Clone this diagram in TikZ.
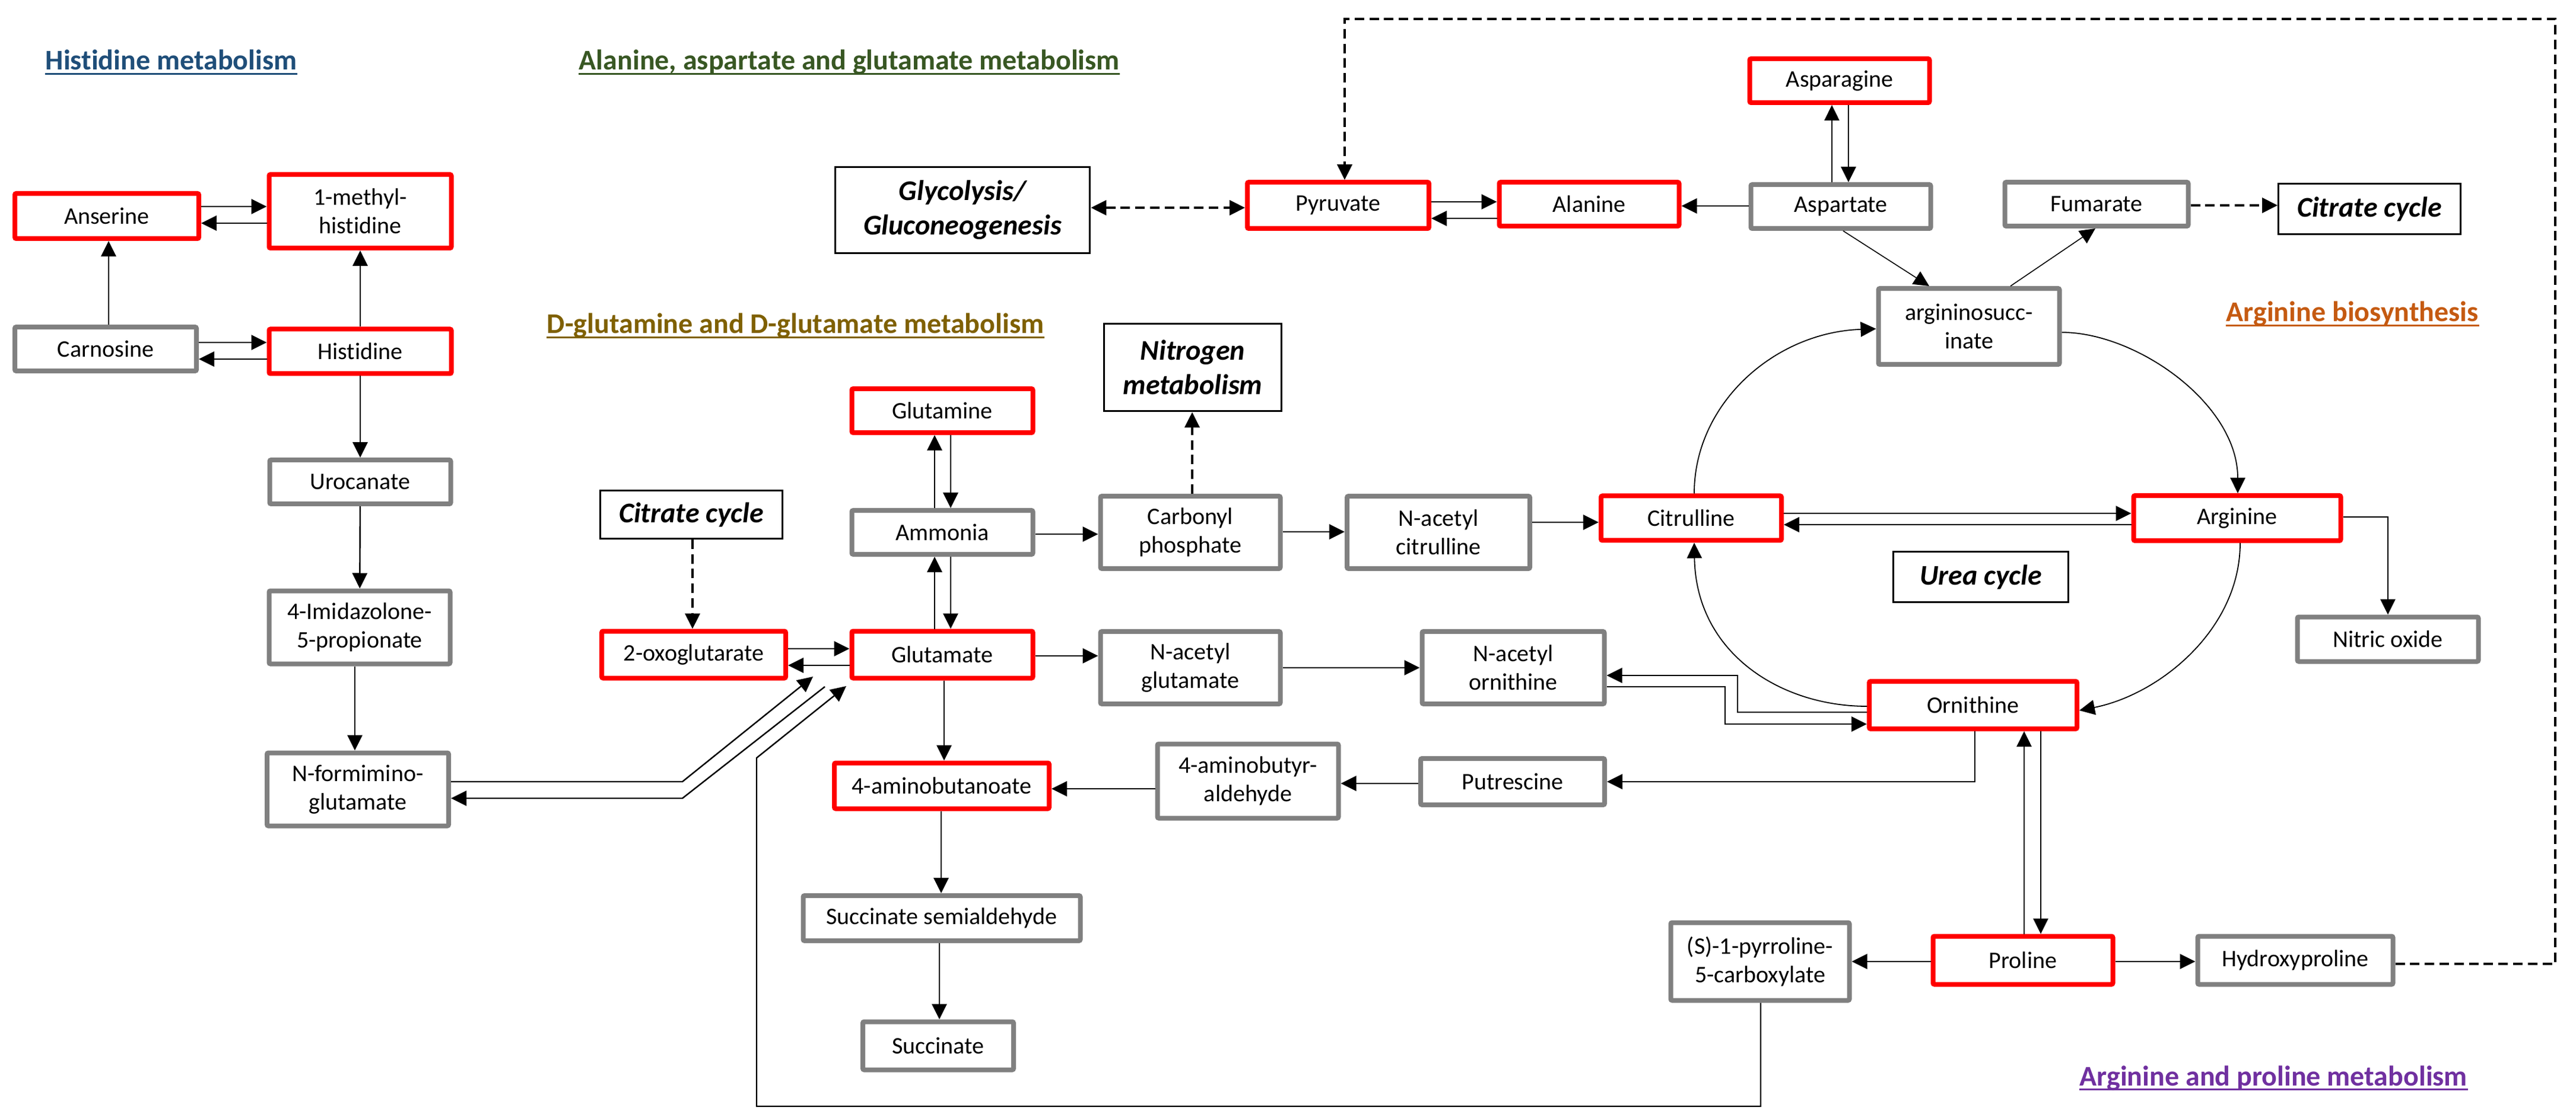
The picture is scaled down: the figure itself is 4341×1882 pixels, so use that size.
\documentclass[tikz,border=0pt]{standalone}
\usepackage{fontspec}
\setmainfont{Carlito}[Ligatures=NoCommon]
\usetikzlibrary{arrows.meta}
\definecolor{boxgray}{HTML}{808080}
\definecolor{boxred}{HTML}{FF0000}
\definecolor{tblue}{HTML}{1F4E79}
\definecolor{tgreen}{HTML}{385723}
\definecolor{tbrown}{HTML}{7F6000}
\definecolor{torange}{HTML}{C55A11}
\definecolor{tpurple}{HTML}{7030A0}
\tikzset{
  mbox/.style={draw, line width=2pt, fill=white, align=center, inner sep=0pt,
    rounded corners=0.6pt, font=\fontsize{10}{12}\selectfont},
  redbox/.style={mbox, draw=boxred},
  graybox/.style={mbox, draw=boxgray},
  pathbox/.style={draw=black, line width=0.8pt, fill=white, align=center, inner sep=0pt,
    font=\fontsize{12}{14.6}\selectfont\bfseries\itshape},
  sz/.style 2 args={minimum width=#1pt, minimum height=#2pt},
  tip/.tip={Triangle[length=6.5pt,width=6.3pt]},
  arr/.style={-tip, line width=0.6pt},
  arrthin/.style={-tip, line width=0.4pt},
  curvearr/.style={-tip, line width=0.45pt},
  darr/.style={-tip, line width=0.85pt, dash pattern=on 4pt off 2.2pt},
  darrboth/.style={tip-tip, line width=0.85pt, dash pattern=on 4pt off 2.2pt},
  ttl/.style={anchor=base west, inner sep=0pt, font=\fontsize{12}{14}\selectfont\bfseries},
}
\begin{document}
\begin{tikzpicture}[x=0.25pt,y=-0.25pt]
\fill[white] (0,0) rectangle (4341,1882);
\useasboundingbox (0,0) rectangle (4341,1882);

% ---------- titles ----------
\node[ttl, text=tblue]   (t1) at (76,118)   {Histidine metabolism};
\node[ttl, text=tgreen]  (t2) at (975,118)  {Alanine, aspartate and glutamate metabolism};
\node[ttl, text=tbrown]  (t3) at (921,562)  {D-glutamine and D-glutamate metabolism};
\node[ttl, text=torange] (t4) at (3751,542) {Arginine biosynthesis};
\node[ttl, text=tpurple] (t5) at (3504,1829) {Arginine and proline metabolism};
\foreach \t/\c in {t1/tblue,t2/tgreen,t3/tbrown,t4/torange,t5/tpurple}
  \draw[\c, line width=0.6pt] ([yshift=-1.6pt]\t.base west) -- ([yshift=-1.6pt]\t.base east);

% ---------- histidine ----------
\node[redbox, sz={77.5}{19}]     (anserine)  at (180,364)  {Anserine};
\node[redbox, sz={76.75}{31}]    (methyl)    at (607,356)  {1-methyl-\\histidine};
\node[graybox, sz={76.5}{18.5}]  (carnosine) at (178,588)  {Carnosine};
\node[redbox, sz={76.75}{18.75}] (histidine) at (607,592)  {Histidine};
\node[graybox, sz={76.25}{18.5}] (urocanate) at (607,812)  {Urocanate};
\node[graybox, sz={76.25}{30.75}](imid)      at (606,1057) {4-Imidazolone-\\5-propionate};
\node[graybox, sz={76.5}{30.75}] (nform)     at (603,1330) {N-formimino-\\glutamate};

% ---------- glutamate ----------
\node[pathbox, sz={76.6}{20.1}]  (citrate1)  at (1165,867) {Citrate cycle};
\node[redbox, sz={77.5}{19.75}]  (oxo)       at (1169,1103) {2-oxoglutarate};
\node[redbox, sz={76.25}{18.5}]  (glutamine) at (1588,692) {Glutamine};
\node[graybox, sz={76.25}{18.5}] (ammonia)   at (1588,897) {Ammonia};
\node[redbox, sz={76.25}{19.75}] (glutamate) at (1588,1103) {Glutamate};
\node[redbox, sz={90.5}{19.25}]  (gaba)      at (1587,1324) {4-aminobutanoate};
\node[graybox, sz={116.75}{19}]  (ssa)       at (1587,1547) {Succinate semialdehyde};
\node[graybox, sz={63.5}{20.25}] (succinate) at (1581,1762) {Succinate};

\node[pathbox, sz={107.4}{36.4}] (glycolysis) at (1622,354) {Glycolysis/\\Gluconeogenesis};
\node[pathbox, sz={74.9}{36.9}]  (nitrogen)   at (2010,619) {Nitrogen\\metabolism};
\node[graybox, sz={75.75}{30.5}] (carbonyl)   at (2006,897) {Carbonyl\\phosphate};
\node[graybox, sz={77}{30.5}]    (nacit)      at (2424,897) {N-acetyl\\citrulline};
\node[redbox, sz={76}{18.75}]    (citrulline) at (2850,873) {Citrulline};
\node[graybox, sz={75.75}{30.5}] (naglu)      at (2006,1125) {N-acetyl\\glutamate};
\node[graybox, sz={76.75}{30.5}] (naorn)      at (2550,1125) {N-acetyl\\ornithine};
\node[graybox, sz={76.25}{31.25}](abal)       at (2103,1316) {4-aminobutyr-\\aldehyde};
\node[graybox, sz={77.5}{19.5}]  (putrescine) at (2549,1317) {Putrescine};
\node[graybox, sz={75.25}{32.75}](p5c)        at (2966,1620) {(S)-1-pyrroline-\\5-carboxylate};

% ---------- alanine / aspartate ----------
\node[redbox, sz={76.5}{19.5}]   (pyruvate)   at (2255,346) {Pyruvate};
\node[redbox, sz={75.75}{18.5}]  (alanine)    at (2678,344) {Alanine};
\node[redbox, sz={75.75}{18.5}]  (asparagine) at (3100,136) {Asparagine};
\node[graybox, sz={75.75}{18.5}] (aspartate)  at (3102,348) {Aspartate};
\node[graybox, sz={77.25}{18.5}] (fumarate)   at (3533,344) {Fumarate};
\node[pathbox, sz={76.6}{21.4}]  (citrate2)   at (3993,352) {Citrate cycle};

% ---------- urea cycle ----------
\node[graybox, sz={76.25}{32}]   (argsucc)    at (3318,550) {argininosucc-\\inate};
\node[redbox, sz={87.25}{19}]    (arginine)   at (3770,873) {Arginine};
\node[graybox, sz={76.25}{18.75}](nitric)     at (4024,1077) {Nitric oxide};
\node[pathbox, sz={73.9}{21.4}]  (urea)       at (3338,972) {Urea cycle};
\node[redbox, sz={87.5}{20}]     (ornithine)  at (3325,1188) {Ornithine};
\node[redbox, sz={75.75}{20.25}] (proline)    at (3409,1618) {Proline};
\node[graybox, sz={82.25}{20.25}](hydroxy)    at (3868,1618) {Hydroxyproline};

% ---------- connectors: histidine ----------
\draw[arr] (anserine.east |- 0,348) -- (methyl.west |- 0,348);
\draw[arr] (methyl.west |- 0,376) -- (anserine.east |- 0,376);
\draw[arr] (carnosine.east |- 0,577) -- (histidine.west |- 0,577);
\draw[arr] (histidine.west |- 0,605) -- (carnosine.east |- 0,605);
\draw[arr] (carnosine.north -| 183,0) -- (anserine.south -| 183,0);
\draw[arr] (histidine) -- (methyl);
\draw[arr] (histidine) -- (urocanate);
\draw[arr] (urocanate) -- (imid);
\draw[arr] (imid.south -| 598,0) -- (nform.north -| 598,0);

\coordinate (nfA) at (1150,1317);
\coordinate (nfB) at (1370,1140);
\coordinate (nfC) at (1390,1157);
\coordinate (nfD) at (1150,1345);
\draw[arr] (nform.east |- 0,1317) -- (nfA) -- (nfB);
\draw[arr] (nfC) -- (nfD) -- (nform.east |- 0,1345);

\coordinate (pc1) at (2967,1864);
\coordinate (pc2) at (1275,1864);
\coordinate (pc3) at (1275,1277);
\coordinate (pc4) at (1426,1156);
\draw[arr] (p5c.south -| 2967,0) -- (pc1) -- (pc2) -- (pc3) -- (pc4);

% ---------- connectors: glutamate ----------
\draw[darr] (citrate1.south -| 1167,0) -- (oxo.north -| 1167,0);
\draw[arr] (oxo.east |- 0,1093) -- (glutamate.west |- 0,1093);
\draw[arr] (glutamate.west |- 0,1121) -- (oxo.east |- 0,1121);
\draw[arr] (ammonia.north -| 1575,0) -- (glutamine.south -| 1575,0);
\draw[arr] (glutamine.south -| 1602,0) -- (ammonia.north -| 1602,0);
\draw[arr] (glutamate.north -| 1575,0) -- (ammonia.south -| 1575,0);
\draw[arr] (ammonia.south -| 1602,0) -- (glutamate.north -| 1602,0);
\draw[arr] (ammonia.east |- 0,900) -- (carbonyl.west |- 0,900);
\draw[arr] (glutamate.east |- 0,1105) -- (naglu.west |- 0,1105);
\draw[arr] (glutamate.south -| 1591,0) -- (gaba.north -| 1591,0);
\draw[arr] (gaba.south -| 1586,0) -- (ssa.north -| 1586,0);
\draw[arr] (ssa.south -| 1583,0) -- (succinate.north -| 1583,0);
\draw[arr] (abal.west |- 0,1329) -- (gaba.east |- 0,1329);
\draw[arr] (putrescine.west |- 0,1320) -- (abal.east |- 0,1320);
\draw[arr] (ornithine.south -| 3328,0) |- (putrescine.east);

\draw[darr] (carbonyl.north -| 2009,0) -- (nitrogen.south -| 2009,0);
\draw[arr] (carbonyl.east |- 0,896) -- (nacit.west |- 0,896);
\draw[arr] (nacit.east |- 0,880) -- (citrulline.west |- 0,880);
\draw[arr] (citrulline.east |- 0,865) -- (arginine.west |- 0,865);
\draw[arr] (arginine.west |- 0,884) -- (citrulline.east |- 0,884);
\draw[arr] (naglu) -- (naorn);

\coordinate (ob1) at (2928,1200);
\coordinate (ob2) at (2928,1138);
\coordinate (ob3) at (2907,1157);
\coordinate (ob4) at (2907,1220);
\draw[arr] (ornithine.west |- 0,1200) -- (ob1) -- (ob2) -- (naorn.east |- 0,1138);
\draw[arr] (naorn.east |- 0,1157) -- (ob3) -- (ob4) -- (ornithine.west |- 0,1220);

% ---------- urea cycle curves ----------
\draw[curvearr] (ornithine.west |- 0,1190) .. controls (3000,1190) and (2858,1100) .. (citrulline.south -| 2855,0);
\draw[curvearr] (citrulline.north -| 2855,0) .. controls (2855,680) and (2990,560) .. (argsucc.west |- 0,554);
\draw[curvearr] (argsucc.east |- 0,560) .. controls (3600,560) and (3771,680) .. (arginine.north -| 3771,0);
\draw[curvearr] (arginine.south -| 3775,0) .. controls (3775,1060) and (3640,1170) .. (ornithine.east |- 0,1197);
\draw[arr] (arginine.east |- 0,871) -| (nitric.north);

% ---------- alanine / aspartate connectors ----------
\draw[darrboth] (glycolysis.east |- 0,350) -- (pyruvate.west |- 0,350);
\draw[arr] (pyruvate.east |- 0,340) -- (alanine.west |- 0,340);
\draw[arr] (alanine.west |- 0,368) -- (pyruvate.east |- 0,368);
\draw[arr] (aspartate.west |- 0,347) -- (alanine.east |- 0,347);
\draw[arrthin] (aspartate.north -| 3087,0) -- (asparagine.south -| 3087,0);
\draw[arr] (asparagine.south -| 3115,0) -- (aspartate.north -| 3115,0);
\draw[arrthin] (aspartate.south -| 3106,0) -- (argsucc.north -| 3251,0);
\draw[arrthin] (argsucc.north -| 3388,0) -- (fumarate.south -| 3531,0);
\draw[darr] (fumarate.east |- 0,346) -- (citrate2.west |- 0,346);

% ---------- proline connectors ----------
\draw[arrthin] (proline.north -| 3411,0) -- (ornithine.south -| 3411,0);
\draw[arr] (ornithine.south -| 3439,0) -- (proline.north -| 3439,0);
\draw[arr] (proline.west |- 0,1620) -- (p5c.east |- 0,1620);
\draw[arr] (proline.east |- 0,1620) -- (hydroxy.west |- 0,1620);

\coordinate (hl1) at (4306,1624);
\coordinate (hl2) at (4306,32);
\coordinate (hl3) at (2266,32);
\draw[darr] (hydroxy.east |- 0,1624) -- (hl1) -- (hl2) -- (hl3) -- (pyruvate.north -| 2266,0);
\end{tikzpicture}
\end{document}
